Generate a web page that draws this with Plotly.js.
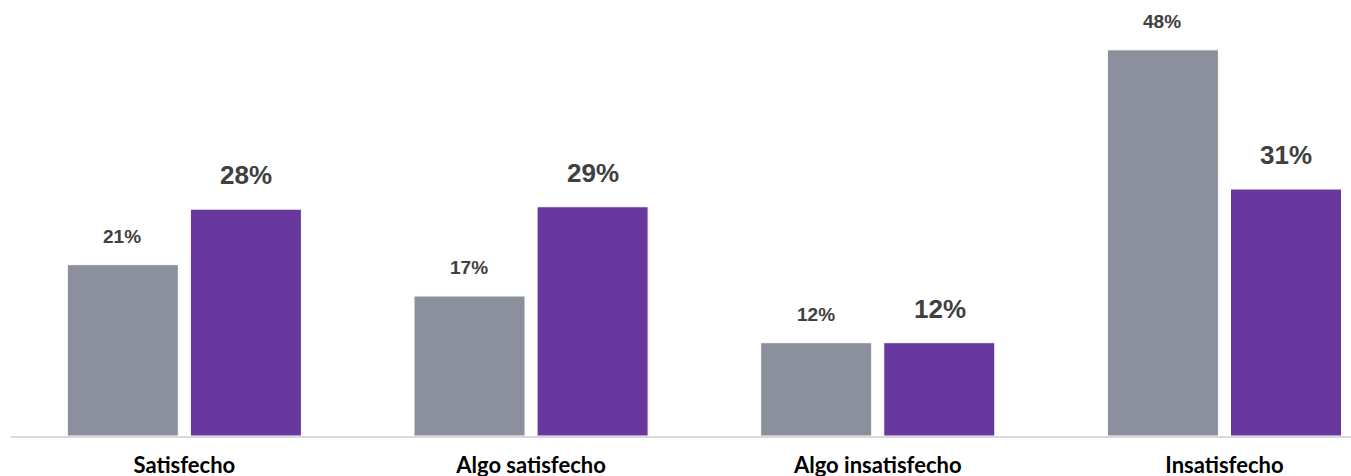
<!DOCTYPE html>
<html>
<head>
<meta charset="utf-8">
<script src="https://cdn.plot.ly/plotly-3.0.1.min.js"></script>
<style>html,body{margin:0;padding:0;background:#fff;}#chart{width:1351px;height:476px;}</style>
</head>
<body>
<div id="chart"></div>
<script>
var categories = ["Satisfecho", "Algo satisfecho", "Algo insatisfecho", "Insatisfecho"];
var seriesA = [21.3, 17.4, 11.6, 48.0];
var seriesB = [28.2, 28.5, 11.6, 30.7];

var gray = "#8b909c";
var purple = "#68389e";

var traces = [
  {type: "bar", x: categories, y: seriesA, name: "A",
   marker: {color: gray, line: {color: "#ffffff", width: 1}}, hoverinfo: "none"},
  {type: "bar", x: categories, y: seriesB, name: "B",
   marker: {color: purple, line: {color: "#ffffff", width: 1}}, hoverinfo: "none"}
];

var annotations = [];
categories.forEach(function(c, i) {
  annotations.push({x: c, y: seriesA[i], xref: "x", yref: "y", text: Math.round(seriesA[i]) + "%",
    showarrow: false, xshift: -62, yshift: 16, yanchor: "bottom",
    font: {family: "Liberation Sans, Arial, sans-serif", size: 19, color: "#404040", weight: "bold"}});
  annotations.push({x: c, y: seriesB[i], xref: "x", yref: "y", text: Math.round(seriesB[i]) + "%",
    showarrow: false, xshift: 62, yshift: 17, yanchor: "bottom",
    font: {family: "Liberation Sans, Arial, sans-serif", size: 26, color: "#404040", weight: "bold"}});
});

var layout = {
  width: 1351, height: 476,
  margin: {l: 11, r: 0, t: 0, b: 40},
  paper_bgcolor: "#ffffff", plot_bgcolor: "#ffffff",
  showlegend: false,
  barmode: "group", bargap: 0.29, bargroupgap: 0.098,
  xaxis: {range: [-0.5, 3.365], showgrid: false, zeroline: false,
    showline: true, linecolor: "#d9d9d9", linewidth: 2, ticks: "",
    ticklabelstandoff: 9,
    tickfont: {family: "Lato, sans-serif", size: 22, color: "#000000", weight: "bold"}},
  yaxis: {range: [0, 54.2], visible: false, showgrid: false, zeroline: false},
  annotations: annotations
};

Plotly.newPlot("chart", traces, layout, {displayModeBar: false, staticPlot: true});
</script>
</body>
</html>
